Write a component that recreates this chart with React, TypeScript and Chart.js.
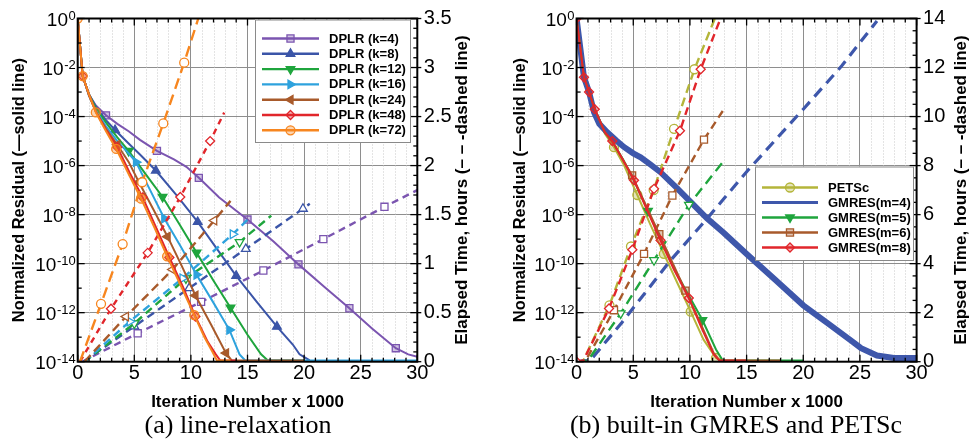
import React, { useEffect, useRef } from "react";
import { Chart, registerables } from "chart.js";

Chart.register(...registerables);
Chart.defaults.font.family = '"Liberation Sans", Arial, Helvetica, sans-serif';
Chart.defaults.color = "#000";

// ---------------- shared axis values ----------------
const iterMin = 0;
const iterMax = 30;
const iterStep = 5;
const residualDecades = [-14, -12, -10, -8, -6, -4, -2, 0];

// ---------------- panel (a): line-relaxation ----------------
const aLabels = ["DPLR (k=4)", "DPLR (k=8)", "DPLR (k=12)", "DPLR (k=16)", "DPLR (k=24)", "DPLR (k=48)", "DPLR (k=72)"];
const aTimeMax = 3.5;
const aTimeStep = 0.5;

// residual: iteration (x1000) and log10(normalized residual)
const k4ResX = [0, 0.44, 1.0, 1.6, 2.5, 3.5, 4.5, 5.5, 7.0, 8.5, 9.6, 10.7, 12.5, 15.0, 17.3, 19.5, 21.8, 24.0, 26.0, 28.1, 29.2, 30];
const k4ResLog = [0, -2.35, -3.1, -3.55, -3.95, -4.3, -4.6, -4.95, -5.4, -5.75, -6.05, -6.5, -7.3, -8.2, -9.1, -10.03, -10.95, -11.82, -12.65, -13.45, -13.7, -13.8];
const k8ResX = [0, 0.44, 1.0, 1.6, 2.5, 3.3, 4.5, 5.5, 6.9, 8.8, 10.6, 12.3, 14.0, 15.8, 17.6, 19.0, 19.6, 20.5];
const k8ResLog = [0, -2.35, -3.1, -3.6, -4.15, -4.55, -5.1, -5.55, -6.2, -7.25, -8.3, -9.4, -10.5, -11.55, -12.57, -13.3, -13.7, -13.95];
const k12ResX = [0, 0.44, 1.0, 1.6, 2.5, 3.5, 4.5, 6.0, 7.5, 9.0, 10.5, 12.0, 13.5, 15.0, 16.2, 16.8, 20];
const k12ResLog = [0, -2.35, -3.1, -3.65, -4.25, -4.85, -5.4, -6.35, -7.28, -8.4, -9.55, -10.7, -11.8, -12.9, -13.7, -13.95, -13.95];
const k16ResX = [0, 0.44, 1.0, 1.6, 2.5, 3.5, 4.5, 5.15, 6.4, 7.65, 9.1, 10.5, 12.0, 13.4, 14.3, 14.8, 30];
const k16ResLog = [0, -2.35, -3.15, -3.75, -4.4, -5.0, -5.5, -5.86, -7.0, -8.16, -9.3, -10.45, -11.6, -12.7, -13.7, -13.95, -13.95];
const k24ResX = [0, 0.44, 1.0, 1.6, 2.5, 3.5, 4.5, 5.4, 6.7, 7.94, 9.2, 10.4, 11.8, 13.1, 13.6, 20];
const k24ResLog = [0, -2.35, -3.15, -3.8, -4.5, -5.15, -5.85, -6.67, -7.8, -8.9, -10.1, -11.3, -12.5, -13.65, -13.95, -13.95];
const k48ResX = [0, 0.44, 1.0, 1.6, 2.5, 3.5, 4.6, 5.74, 6.9, 8.1, 9.3, 10.4, 11.5, 12.2, 12.6, 14];
const k48ResLog = [0, -2.35, -3.1, -3.8, -4.55, -5.25, -6.3, -7.3, -8.5, -9.75, -10.95, -12.16, -13.2, -13.7, -13.95, -13.95];
const k72ResX = [0, 0.44, 1.0, 1.6, 2.5, 3.4, 4.5, 5.6, 6.8, 7.9, 9.1, 10.3, 11.2, 11.9, 12.3, 13.5];
const k72ResLog = [0, -2.35, -3.1, -3.83, -4.6, -5.32, -6.35, -7.35, -8.55, -9.7, -10.9, -12.1, -13.0, -13.6, -13.95, -13.95];

// elapsed time: iteration (x1000) and hours
const k4TimeX = [0.4, 5.3, 10.9, 16.4, 21.7, 27.1, 30];
const k4TimeH = [0, 0.29, 0.61, 0.93, 1.25, 1.58, 1.75];
const k8TimeX = [0.5, 5, 9.85, 14.85, 19.9, 20.5];
const k8TimeH = [0, 0.36, 0.75, 1.15, 1.56, 1.61];
const k12TimeX = [0.6, 5, 9.56, 14.3, 17.1];
const k12TimeH = [0, 0.39, 0.85, 1.22, 1.49];
const k16TimeX = [0.6, 4.6, 9.26, 13.7, 15.2];
const k16TimeH = [0, 0.41, 0.85, 1.3, 1.47];
const k24TimeX = [0.6, 4.26, 8.38, 12.06, 13.5];
const k24TimeH = [0, 0.46, 0.94, 1.44, 1.64];
const k48TimeX = [0.2, 2.94, 6.18, 9.06, 11.7, 12.94];
const k48TimeH = [0, 0.54, 1.11, 1.68, 2.25, 2.54];
const k72TimeX = [0.2, 2.06, 3.97, 5.7, 7.56, 9.41, 10.65];
const k72TimeH = [0, 0.59, 1.2, 1.83, 2.43, 3.05, 3.5];

// ---------------- panel (b): built-in GMRES and PETSc ----------------
const bLabels = ["PETSc", "GMRES(m=4)", "GMRES(m=5)", "GMRES(m=6)", "GMRES(m=8)"];
const bTimeMax = 14;
const bTimeStep = 2;

const petscResX = [0, 0.65, 1.1, 1.6, 2.5, 3.3, 4.2, 5.36, 6.5, 7.7, 8.9, 10.07, 11.2, 12.3, 12.8];
const petscResLog = [0, -2.4, -3.0, -3.7, -4.7, -5.25, -6.0, -7.2, -8.4, -9.6, -10.8, -11.96, -13.1, -13.85, -13.95];
const m4ResX = [0, 0.65, 1.1, 1.54, 2.0, 2.7, 3.5, 4.2, 5.0, 5.65, 6.5, 7.4, 8.7, 10.1, 11.5, 13.0, 15.1, 17.5, 20.0, 22.2, 24.4, 25.1, 26.5, 28.0, 30];
const m4ResLog = [0, -2.4, -3.0, -3.83, -4.3, -4.64, -4.98, -5.25, -5.5, -5.66, -5.95, -6.27, -6.85, -7.5, -8.15, -8.75, -9.65, -10.65, -11.7, -12.45, -13.2, -13.45, -13.75, -13.85, -13.85];
const m5ResX = [0, 0.65, 1.1, 1.6, 2.5, 3.2, 4.1, 5.1, 6.3, 7.5, 8.7, 9.9, 11.1, 12.3, 12.9, 20];
const m5ResLog = [0, -2.4, -3.0, -3.7, -4.65, -5.05, -5.75, -6.65, -7.85, -9.1, -10.3, -11.3, -12.3, -13.5, -13.95, -13.95];
const m6ResX = [0, 0.65, 1.1, 1.6, 2.5, 3.2, 4.9, 6.1, 7.3, 8.5, 9.6, 10.9, 12.1, 12.6, 18];
const m6ResLog = [0, -2.4, -3.0, -3.7, -4.65, -5.05, -6.4, -7.6, -8.8, -10.0, -11.1, -12.4, -13.65, -13.95, -13.95];
const m8ResX = [0, 0.65, 1.1, 1.6, 2.5, 3.15, 4.0, 5.07, 6.2, 7.4, 8.6, 9.9, 11.0, 12.1, 12.6, 15];
const m8ResLog = [0, -2.4, -3.0, -3.7, -4.65, -5.0, -5.7, -6.6, -7.8, -9.05, -10.25, -11.4, -12.6, -13.7, -13.95, -13.95];

const petscTimeX = [0, 0.6, 2.9, 4.8, 6.8, 8.6, 10.4, 12.2];
const petscTimeH = [0, 0.05, 2.3, 4.7, 7.0, 9.5, 11.93, 14];
const m4TimeX = [0, 1.2, 4.0, 8.3, 11.5, 15.1, 20, 23.4, 26.5];
const m4TimeH = [0, 0.05, 1.6, 4.14, 5.83, 7.8, 10.3, 12.07, 13.9];
const m5TimeX = [0, 1.0, 3.89, 6.83, 9.91, 13.0];
const m5TimeH = [0, 0.05, 1.97, 4.14, 6.4, 8.2];
const m6TimeX = [0, 0.8, 3.3, 5.95, 8.45, 11.24, 13.0];
const m6TimeH = [0, 0.05, 2.1, 4.4, 6.78, 9.06, 10.3];
const m8TimeX = [0, 0.6, 2.86, 4.92, 6.83, 9.12, 10.95, 12.7];
const m8TimeH = [0, 0.05, 2.17, 4.57, 7.05, 9.42, 11.93, 14];

// ---------------- styling ----------------
type Mk = "circle" | "rect" | "rectRot" | "triangle" | null;
interface SeriesDef {
  label: string;
  color: string;
  marker: Mk;
  rot: number;
  radius: number;
  resX: number[];
  resLog: number[];
  resMarks: number[];
  timeX: number[];
  timeH: number[];
  timeMarks: number[];
  resWidth?: number;
  timeWidth?: number;
  dash?: number[];
  legendWidth?: number;
}

const C = {
  purple: "#7b55b0",
  dblue: "#3b55a8",
  green: "#1fa53d",
  lblue: "#2ea2dd",
  brown: "#a85a2b",
  red: "#e1262b",
  orange: "#f7861f",
  olive: "#b4b53a",
  gblue: "#3e57ab",
};

const aSeries: SeriesDef[] = [
  { label: aLabels[0], color: C.purple, marker: "rect", rot: 0, radius: 5, resX: k4ResX, resLog: k4ResLog, resMarks: [4, 8, 11, 13, 15, 17, 19], timeX: k4TimeX, timeH: k4TimeH, timeMarks: [1, 2, 3, 4, 5], dash: [7, 5] },
  { label: aLabels[1], color: C.dblue, marker: "triangle", rot: 0, radius: 5, resX: k8ResX, resLog: k8ResLog, resMarks: [5, 8, 10, 12, 14], timeX: k8TimeX, timeH: k8TimeH, timeMarks: [1, 2, 3, 4], dash: [8, 5] },
  { label: aLabels[2], color: C.green, marker: "triangle", rot: 180, radius: 5, resX: k12ResX, resLog: k12ResLog, resMarks: [6, 8, 10, 12], timeX: k12TimeX, timeH: k12TimeH, timeMarks: [1, 2, 3], dash: [8, 5] },
  { label: aLabels[3], color: C.lblue, marker: "triangle", rot: 90, radius: 5, resX: k16ResX, resLog: k16ResLog, resMarks: [7, 9, 11, 13], timeX: k16TimeX, timeH: k16TimeH, timeMarks: [1, 2, 3], dash: [8, 5] },
  { label: aLabels[4], color: C.brown, marker: "triangle", rot: 270, radius: 5, resX: k24ResX, resLog: k24ResLog, resMarks: [5, 7, 9, 11, 13], timeX: k24TimeX, timeH: k24TimeH, timeMarks: [1, 2, 3], dash: [9, 5] },
  { label: aLabels[5], color: C.red, marker: "rectRot", rot: 0, radius: 4.5, resX: k48ResX, resLog: k48ResLog, resMarks: [1, 5, 7, 9, 11], timeX: k48TimeX, timeH: k48TimeH, timeMarks: [1, 2, 3, 4], dash: [6, 5] },
  { label: aLabels[6], color: C.orange, marker: "circle", rot: 0, radius: 4.5, resX: k72ResX, resLog: k72ResLog, resMarks: [0, 1, 3, 5, 7, 9, 11], timeX: k72TimeX, timeH: k72TimeH, timeMarks: [1, 2, 3, 4, 5], dash: [11, 6] },
];

const bSeries: SeriesDef[] = [
  { label: bLabels[0], color: C.olive, marker: "circle", rot: 0, radius: 4.5, resX: petscResX, resLog: petscResLog, resMarks: [5, 7, 9, 11, 13], timeX: petscTimeX, timeH: petscTimeH, timeMarks: [2, 3, 4, 5, 6], dash: [9, 5] },
  { label: bLabels[1], color: C.gblue, marker: null, rot: 0, radius: 0, resX: m4ResX, resLog: m4ResLog, resMarks: [], timeX: m4TimeX, timeH: m4TimeH, timeMarks: [], resWidth: 6, timeWidth: 3.2, dash: [11, 7], legendWidth: 3 },
  { label: bLabels[2], color: C.green, marker: "triangle", rot: 180, radius: 5, resX: m5ResX, resLog: m5ResLog, resMarks: [8, 12], timeX: m5TimeX, timeH: m5TimeH, timeMarks: [2, 3, 4], dash: [10, 6] },
  { label: bLabels[3], color: C.brown, marker: "rect", rot: 0, radius: 5, resX: m6ResX, resLog: m6ResLog, resMarks: [6, 8, 10], timeX: m6TimeX, timeH: m6TimeH, timeMarks: [2, 3, 4, 5], dash: [8, 5] },
  { label: bLabels[4], color: C.red, marker: "rectRot", rot: 0, radius: 4.5, resX: m8ResX, resLog: m8ResLog, resMarks: [0, 1, 2, 3, 5, 7, 9, 11], timeX: m8TimeX, timeH: m8TimeH, timeMarks: [0, 2, 3, 4, 5, 6], dash: [8, 5] },
];

function rgba(hex: string, a: number) {
  const n = parseInt(hex.slice(1), 16);
  return `rgba(${(n >> 16) & 255},${(n >> 8) & 255},${n & 255},${a})`;
}

function solidFill(s: SeriesDef) {
  return s.marker === "triangle" ? s.color : rgba(s.color, 0.35);
}

function buildDatasets(defs: SeriesDef[]) {
  const out: any[] = [];
  defs.forEach((s, i) => {
    out.push({
      label: s.label,
      data: s.resX.map((x, j) => ({ x, y: Math.pow(10, s.resLog[j]) })),
      xAxisID: "x",
      yAxisID: "y",
      borderColor: s.color,
      backgroundColor: s.color,
      borderWidth: s.resWidth ?? 2,
      pointStyle: s.marker ?? "circle",
      pointRotation: s.rot,
      pointRadius: (c: any) => (s.marker && s.resMarks.includes(c.dataIndex) ? s.radius : 0),
      pointHoverRadius: 0,
      pointBorderColor: s.color,
      pointBackgroundColor: solidFill(s),
      pointBorderWidth: 1.3,
      tension: 0,
      fill: false,
      order: 100 - 2 * i,
    });
    out.push({
      label: s.label + " time",
      data: s.timeX.map((x, j) => ({ x, y: s.timeH[j] })),
      xAxisID: "x",
      yAxisID: "y2",
      borderColor: s.color,
      backgroundColor: s.color,
      borderWidth: s.timeWidth ?? 2.4,
      borderDash: s.dash ?? [8, 5],
      pointStyle: s.marker ?? "circle",
      pointRotation: s.rot,
      pointRadius: (c: any) => (s.marker && s.timeMarks.includes(c.dataIndex) ? s.radius : 0),
      pointHoverRadius: 0,
      pointBorderColor: s.color,
      pointBackgroundColor: "#ffffff",
      pointBorderWidth: 1.3,
      tension: 0,
      fill: false,
      order: 100 - 2 * i - 1,
    });
  });
  return out;
}

function drawMark(ctx: CanvasRenderingContext2D, kind: Mk, x: number, y: number, r: number, rotDeg: number, color: string, fill: string) {
  if (!kind) return;
  ctx.save();
  ctx.translate(x, y);
  ctx.rotate((rotDeg * Math.PI) / 180);
  ctx.beginPath();
  if (kind === "circle") ctx.arc(0, 0, r, 0, Math.PI * 2);
  else if (kind === "rect") {
    const s = r * Math.SQRT1_2;
    ctx.rect(-s, -s, 2 * s, 2 * s);
  } else if (kind === "rectRot") {
    ctx.moveTo(0, -r);
    ctx.lineTo(r, 0);
    ctx.lineTo(0, r);
    ctx.lineTo(-r, 0);
    ctx.closePath();
  } else {
    ctx.moveTo(0, -r);
    ctx.lineTo(r * 0.866, r * 0.5);
    ctx.lineTo(-r * 0.866, r * 0.5);
    ctx.closePath();
  }
  ctx.fillStyle = fill;
  ctx.fill();
  ctx.lineWidth = 1.3;
  ctx.strokeStyle = color;
  ctx.stroke();
  ctx.restore();
}

interface PanelDef {
  series: SeriesDef[];
  tMax: number;
  tStep: number;
  tMinor: number;
  leftW: number;
  rightW: number;
  leftTitlePad: number;
  rightTitleX: number;
  legend: { left: number; top: number; right: number; bottom: number; row0: number; rowGap: number; lx0: number; lx1: number; tx: number };
}

const FONT = '"Liberation Sans", Arial, sans-serif';

function makeDecorPlugin(p: PanelDef) {
  return {
    id: "decor",
    beforeDatasetsDraw(chart: any) {
      const { ctx, chartArea: ca, scales } = chart;
      const xs = scales.x;
      ctx.save();
      ctx.strokeStyle = "#c8c8c8";
      ctx.lineWidth = 1;
      ctx.setLineDash([1, 2]);
      for (let v = iterMin + 1; v < iterMax; v++) {
        if (v % iterStep === 0) continue;
        const px = Math.round(xs.getPixelForValue(v)) + 0.5;
        ctx.beginPath();
        ctx.moveTo(px, ca.top);
        ctx.lineTo(px, ca.bottom);
        ctx.stroke();
      }
      ctx.restore();
    },
    afterDatasetsDraw(chart: any) {
      const { ctx, chartArea: ca, scales } = chart;
      const xs = scales.x;
      const ys = scales.y;
      const y2 = scales.y2;
      ctx.save();
      ctx.setLineDash([]);
      ctx.strokeStyle = "#000";
      ctx.lineWidth = 1.3;
      const seg = (x0: number, y0: number, x1: number, y1: number) => {
        ctx.beginPath();
        ctx.moveTo(x0, y0);
        ctx.lineTo(x1, y1);
        ctx.stroke();
      };
      for (let v = iterMin; v <= iterMax; v++) {
        const px = xs.getPixelForValue(v);
        const len = v % iterStep === 0 ? 7 : 4;
        seg(px, ca.bottom, px, ca.bottom - len);
        seg(px, ca.top, px, ca.top + len);
      }
      for (let e = -14; e <= 0; e++) {
        const py = ys.getPixelForValue(Math.pow(10, e));
        const len = e % 2 === 0 ? 7 : 4;
        seg(ca.left, py, ca.left + len, py);
      }
      const nMinor = Math.round(p.tMax / p.tMinor);
      for (let k = 0; k <= nMinor; k++) {
        const v = k * p.tMinor;
        const py = y2.getPixelForValue(v);
        const major = Math.abs(v / p.tStep - Math.round(v / p.tStep)) < 1e-6;
        seg(ca.right, py, ca.right - (major ? 7 : 4), py);
        if (major) seg(ca.right, py, ca.right + 4, py);
      }
      ctx.lineWidth = 2;
      ctx.strokeRect(ca.left, ca.top, ca.right - ca.left, ca.bottom - ca.top);

      // residual tick labels: 10 with a raised exponent, at the log scale's tick positions
      ctx.fillStyle = "#000";
      ctx.textAlign = "right";
      ctx.textBaseline = "alphabetic";
      ys.ticks.forEach((t: any) => {
        const py = ys.getPixelForValue(t.value);
        const exp = String(Math.round(Math.log10(t.value)));
        ctx.font = `13px ${FONT}`;
        const ew = ctx.measureText(exp).width;
        const xr = ca.left - 2;
        ctx.fillText(exp, xr, py + 1.5);
        ctx.font = `19px ${FONT}`;
        ctx.fillText("10", xr - ew - 0.5, py + 7);
      });

      // legend
      const L = p.legend;
      ctx.fillStyle = "#fff";
      ctx.fillRect(L.left, L.top, L.right - L.left, L.bottom - L.top);
      ctx.lineWidth = 1;
      ctx.strokeStyle = "#8a8a8a";
      ctx.strokeRect(L.left + 0.5, L.top + 0.5, L.right - L.left, L.bottom - L.top);
      ctx.font = `bold 13px ${FONT}`;
      ctx.textBaseline = "middle";
      ctx.textAlign = "left";
      p.series.forEach((s, i) => {
        const y = L.row0 + i * L.rowGap;
        ctx.strokeStyle = s.color;
        ctx.lineWidth = s.legendWidth ?? 2.4;
        seg(L.lx0, y, L.lx1, y);
        drawMark(ctx, s.marker, (L.lx0 + L.lx1) / 2, y, s.radius, s.rot, s.color, solidFill(s));
        ctx.fillStyle = "#000";
        ctx.fillText(s.label, L.tx, y + 0.5);
      });

      // right axis title (reads bottom to top)
      ctx.save();
      ctx.translate(p.rightTitleX, (ca.top + ca.bottom) / 2);
      ctx.rotate(-Math.PI / 2);
      ctx.font = `bold 17px ${FONT}`;
      ctx.textAlign = "center";
      ctx.textBaseline = "middle";
      ctx.fillStyle = "#000";
      ctx.fillText("Elapsed Time, hours (– – -dashed line)", 0, 0);
      ctx.restore();
      ctx.restore();
    },
  };
}

const CANVAS_W = 487;
const CANVAS_H = 413;

function makeConfig(p: PanelDef): any {
  return {
    type: "line",
    data: { datasets: buildDatasets(p.series) },
    options: {
      animation: false,
      responsive: false,
      maintainAspectRatio: false,
      events: [],
      layout: { padding: { top: 17.5, bottom: 0, left: 0, right: 0 } },
      plugins: { legend: { display: false }, tooltip: { enabled: false } },
      scales: {
        x: {
          type: "linear",
          position: "bottom",
          min: iterMin,
          max: iterMax,
          ticks: { stepSize: iterStep, font: { size: 20 }, padding: 0, maxRotation: 0, color: "#000" },
          grid: { color: "#8e8e8e", lineWidth: 1, drawTicks: false },
          border: { display: false },
          title: { display: true, text: "Iteration Number x 1000", font: { size: 17, weight: "bold" }, padding: { top: 0, bottom: 0 }, color: "#000" },
          afterFit: (s: any) => {
            s.height = 51.3;
          },
        },
        y: {
          type: "logarithmic",
          position: "left",
          min: Math.pow(10, residualDecades[0]),
          max: Math.pow(10, residualDecades[residualDecades.length - 1]),
          afterBuildTicks: (s: any) => {
            s.ticks = residualDecades.map((e) => ({ value: Math.pow(10, e) }));
          },
          ticks: { display: false, autoSkip: false },
          grid: { color: "#8e8e8e", lineWidth: 1, drawTicks: false },
          border: { display: false },
          title: { display: true, text: "Normalized Residual (—solid line)", font: { size: 16.4, weight: "bold" }, padding: { top: p.leftTitlePad, bottom: 0 }, color: "#000" },
          afterFit: (s: any) => {
            s.width = p.leftW;
          },
        },
        y2: {
          type: "linear",
          position: "right",
          min: 0,
          max: p.tMax,
          ticks: {
            stepSize: p.tStep,
            font: { size: 20 },
            padding: 6.5,
            color: "#000",
            callback: (v: number) => String(Math.round(v * 10) / 10),
          },
          grid: { display: false, drawTicks: false },
          border: { display: false },
          afterFit: (s: any) => {
            s.width = p.rightW;
          },
        },
      },
    },
    plugins: [makeDecorPlugin(p)],
  };
}

const panelA: PanelDef = {
  series: aSeries,
  tMax: aTimeMax,
  tStep: aTimeStep,
  tMinor: 0.1,
  leftW: 77.7,
  rightW: CANVAS_W - 417.3,
  leftTitlePad: 9.7,
  rightTitleX: 462,
  legend: { left: 255, top: 19.5, right: 410, bottom: 142, row0: 38.5, rowGap: 15.3, lx0: 262, lx1: 319, tx: 329 },
};

const panelB: PanelDef = {
  series: bSeries,
  tMax: bTimeMax,
  tStep: bTimeStep,
  tMinor: 0.5,
  leftW: 89.6,
  rightW: CANVAS_W - (916.6 - 487),
  leftTitlePad: 23.2,
  rightTitleX: 474,
  legend: { left: 268, top: 166.5, right: 426, bottom: 260, row0: 187.5, rowGap: 15, lx0: 275, lx1: 331, tx: 341 },
};

function Panel({ cfg, left }: { cfg: PanelDef; left: number }) {
  const ref = useRef<HTMLCanvasElement>(null);
  useEffect(() => {
    const chart = new Chart(ref.current!, makeConfig(cfg));
    return () => chart.destroy();
  }, [cfg]);
  return (
    <canvas
      ref={ref}
      width={CANVAS_W}
      height={CANVAS_H}
      style={{ position: "absolute", left, top: 0, width: CANVAS_W, height: CANVAS_H }}
    />
  );
}

export default function App() {
  const cap: React.CSSProperties = {
    position: "absolute",
    top: 410,
    transform: "translateX(-50%)",
    font: '26px "Liberation Serif", "Times New Roman", serif',
    whiteSpace: "nowrap",
    color: "#000",
    lineHeight: "30px",
  };
  return (
    <div style={{ position: "fixed", left: 0, top: 0, width: 974, height: 445, background: "#fff", overflow: "hidden" }}>
      <Panel cfg={panelA} left={0} />
      <Panel cfg={panelB} left={487} />
      <div style={{ ...cap, left: 238 }}>(a) line-relaxation</div>
      <div style={{ ...cap, left: 736 }}>(b) built-in GMRES and PETSc</div>
    </div>
  );
}
